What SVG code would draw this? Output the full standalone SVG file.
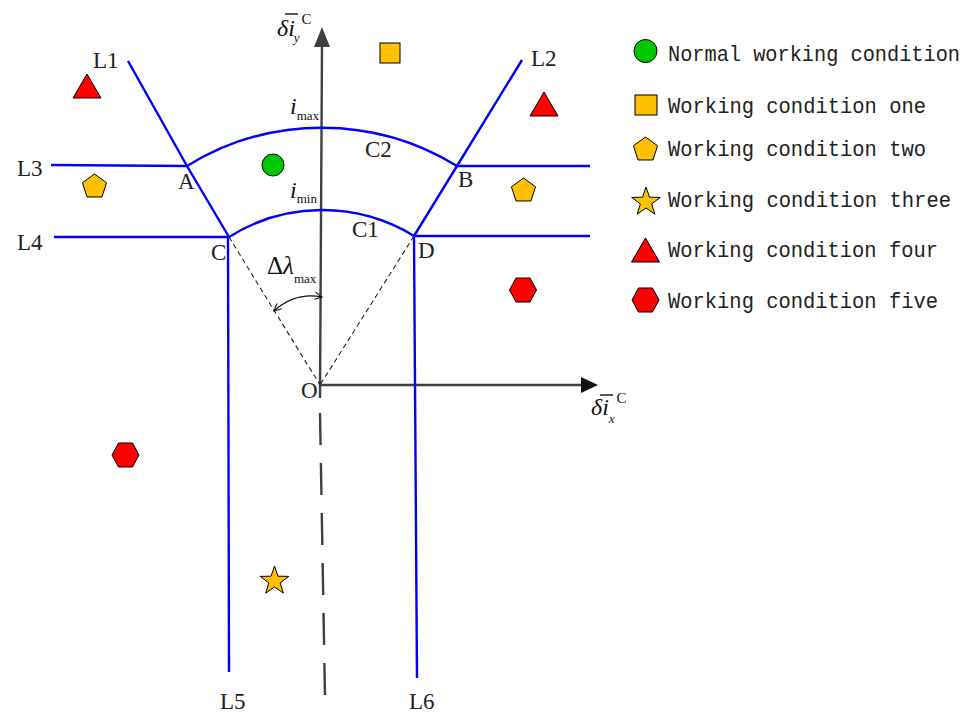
<svg xmlns="http://www.w3.org/2000/svg" width="976" height="715" viewBox="0 0 976 715">
<style>
.blue{fill:none;stroke:#0000FF;stroke-width:2.4}
.axis{fill:none;stroke:#404040;stroke-width:2.4}
.dash{fill:none;stroke:#222;stroke-width:1.1;stroke-dasharray:5 3.5}
.lbl{font-family:"Liberation Serif","Times New Roman",serif;font-size:23px;fill:#222}
.it{font-family:"Liberation Serif","Times New Roman",serif;font-style:italic;fill:#111}
.sub{font-family:"Liberation Serif","Times New Roman",serif;font-style:normal;fill:#111}
.leg{font-family:"Liberation Mono","DejaVu Sans Mono",monospace;font-size:21.5px;fill:#222}
.or{fill:#FFC000;stroke:#000;stroke-width:1}
.rd{fill:#FF0000;stroke:#000;stroke-width:1}
.gr{fill:#00C800;stroke:#000;stroke-width:1}
</style>
<defs>
<polygon id="pent" points="0,-12.7 12.08,-3.92 7.46,10.27 -7.46,10.27 -12.08,-3.92"/>
<polygon id="tri" points="0,-12 14,12 -14,12"/>
<polygon id="hex" points="-13.5,0 -7,-12 7,-12 13.5,0 7,12 -7,12"/>
<polygon id="star" points="0,-15 3.5,-4.8 14.3,-4.6 5.7,1.9 8.8,12.1 0,6 -8.8,12.1 -5.7,1.9 -14.3,-4.6 -3.5,-4.8"/>
<marker id="open" viewBox="0 0 10 10" refX="9" refY="5" markerWidth="9" markerHeight="9" markerUnits="userSpaceOnUse" orient="auto-start-reverse">
<path d="M1,1 L9,5 L1,9" fill="none" stroke="#111" stroke-width="1.2"/>
</marker>
</defs>

<g id="connectors">
<path class="axis" d="M322,46 L320,398"/>
<polygon points="322,27 314,47 330,47" fill="#404040"/>
<path class="axis" d="M320,385 L582,385"/>
<polygon points="598,385 581,377 581,393" fill="#111"/>
<path class="axis" d="M320,413 L325,697" stroke-dasharray="32 18"/>
<path class="blue" d="M128,61 L187,166 L229,237"/>
<path class="blue" d="M522,60 L457,166 L414,236"/>
<path class="blue" d="M51,165 L187,166"/>
<path class="blue" d="M457,166 L590,166"/>
<path class="blue" d="M54,237 L229,237"/>
<path class="blue" d="M414,236 L590,236"/>
<path class="blue" d="M187,166 A257,257 0 0 1 457,166"/>
<path class="blue" d="M229,237 A175,175 0 0 1 414,236"/>
<path class="blue" d="M228,237 L229,672"/>
<path class="blue" d="M414,236 L417,678"/>
<path class="dash" d="M229,237 L320,385"/>
<path class="dash" d="M414,236 L320,385"/>
<path d="M274,311 Q295,292 322,297" fill="none" stroke="#111" stroke-width="1.2" marker-start="url(#open)" marker-end="url(#open)"/>
</g>

<g id="labels">
<text class="lbl" x="93" y="68">L1</text>
<text class="lbl" x="531" y="66">L2</text>
<text class="lbl" x="17" y="176">L3</text>
<text class="lbl" x="17" y="250">L4</text>
<text class="lbl" x="220" y="709">L5</text>
<text class="lbl" x="409" y="709">L6</text>
<text class="lbl" x="178" y="189">A</text>
<text class="lbl" x="458" y="187">B</text>
<text class="lbl" x="211" y="260">C</text>
<text class="lbl" x="418" y="258">D</text>
<text class="lbl" x="352" y="237">C1</text>
<text class="lbl" x="365" y="157">C2</text>
<text class="lbl" x="301" y="398">O</text>
<text class="it" x="290" y="114" font-size="24">i<tspan class="sub" font-size="13" dy="6">max</tspan></text>
<text class="it" x="290" y="198" font-size="24">i<tspan class="sub" font-size="13" dy="5">min</tspan></text>
<text class="sub" x="267" y="274" font-size="25">Δ<tspan class="it">λ</tspan><tspan class="sub" font-size="13" dy="9">max</tspan></text>
<text class="it" x="277" y="36" font-size="24">δi<tspan font-size="13" dx="-1" dy="6">y</tspan><tspan class="sub" font-size="15" dx="2" dy="-18">C</tspan></text>
<line x1="285" y1="14" x2="298" y2="14" stroke="#111" stroke-width="1.4"/>
<text class="it" x="591" y="415" font-size="24">δi<tspan font-size="13" dy="8">x</tspan><tspan class="sub" font-size="15" dx="2" dy="-20">C</tspan></text>
<line x1="600" y1="395" x2="613" y2="395" stroke="#111" stroke-width="1.4"/>
</g>

<g id="points">
<use href="#tri" class="rd" x="87" y="86"/>
<use href="#pent" class="or" x="94.5" y="186.7"/>
<rect class="or" x="380" y="43" width="20" height="20"/>
<circle class="gr" cx="273" cy="165" r="11"/>
<use href="#tri" class="rd" x="544" y="104"/>
<use href="#pent" class="or" x="523.5" y="190.7"/>
<use href="#hex" class="rd" x="523" y="290"/>
<use href="#hex" class="rd" x="125.5" y="455"/>
<use href="#star" class="or" x="274.5" y="581"/>
</g>

<g id="legend">
<circle class="gr" cx="645.5" cy="51" r="11.5"/>
<text class="leg" x="668" y="61" textLength="292" lengthAdjust="spacingAndGlyphs">Normal working condition</text>
<rect class="or" x="635" y="95" width="22" height="20"/>
<text class="leg" x="668" y="113" textLength="258" lengthAdjust="spacingAndGlyphs">Working condition one</text>
<use href="#pent" class="or" x="645.5" y="149.7"/>
<text class="leg" x="668" y="156" textLength="258" lengthAdjust="spacingAndGlyphs">Working condition two</text>
<use href="#star" class="or" x="646" y="202"/>
<text class="leg" x="668" y="207" textLength="283" lengthAdjust="spacingAndGlyphs">Working condition three</text>
<use href="#tri" class="rd" x="645.5" y="250"/>
<text class="leg" x="668" y="257" textLength="270" lengthAdjust="spacingAndGlyphs">Working condition four</text>
<use href="#hex" class="rd" x="645.5" y="300"/>
<text class="leg" x="668" y="308" textLength="270" lengthAdjust="spacingAndGlyphs">Working condition five</text>
</g>
</svg>
